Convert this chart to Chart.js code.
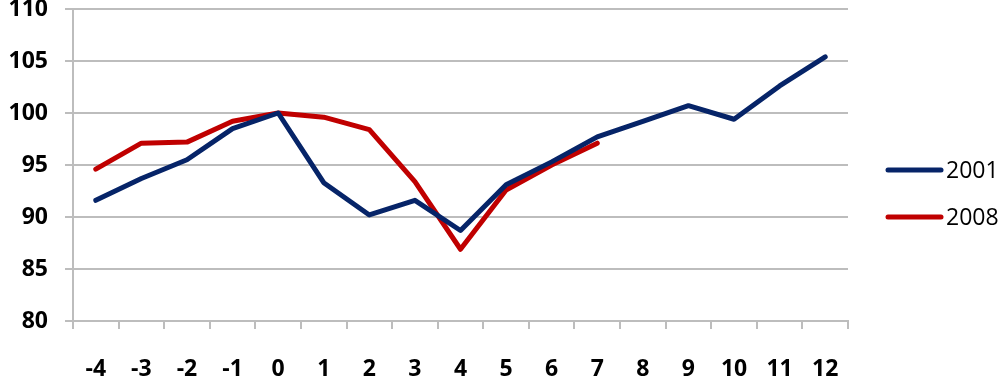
<!DOCTYPE html>
<html>
<head>
<meta charset="utf-8">
<script src="https://cdn.jsdelivr.net/npm/chart.js@4.4.1/dist/chart.umd.min.js"></script>
<style>
  html, body { margin: 0; padding: 0; background: #ffffff; }
  #wrap { width: 1005px; height: 385px; position: relative; }
</style>
</head>
<body>
<div id="wrap"><canvas id="c"></canvas></div>
<script>
// Months relative to the reference point
const periods = ['-4', '-3', '-2', '-1', '0', '1', '2', '3', '4', '5', '6', '7', '8', '9', '10', '11', '12'];

// Index values (reference month = 100)
const series2001 = [91.6, 93.7, 95.5, 98.5, 100.0, 93.3, 90.2, 91.6, 88.7, 93.1, 95.3, 97.7, 99.2, 100.7, 99.4, 102.6, 105.4];
const series2008 = [94.6, 97.1, 97.2, 99.2, 100.0, 99.6, 98.4, 93.4, 86.9, 92.6, 95.0, 97.1];

const yTicks = { min: 80, max: 110, step: 5 };

const seriesNames = ['2001', '2008'];
const seriesColors = ['#062468', '#c00000'];

const gridGray = '#bdbdbd';
const fontFamily = '"Open Sans", "Liberation Sans", sans-serif';

// Legend drawn on the right, vertically stacked, short line + label
const sideLegend = {
  id: 'sideLegend',
  afterDraw(chart) {
    const ctx = chart.ctx;
    const x0 = 888, x1 = 941;
    const rows = [170, 217];
    ctx.save();
    chart.data.datasets.forEach((ds, i) => {
      const y = rows[i];
      ctx.strokeStyle = ds.borderColor;
      ctx.lineWidth = 5;
      ctx.lineCap = 'round';
      ctx.beginPath();
      ctx.moveTo(x0, y);
      ctx.lineTo(x1, y);
      ctx.stroke();
      ctx.fillStyle = '#000000';
      ctx.font = '23px ' + fontFamily;
      ctx.textBaseline = 'middle';
      ctx.textAlign = 'left';
      ctx.fillText(ds.label, 946, y + 1);
    });
    ctx.restore();
  }
};

new Chart(document.getElementById('c'), {
  type: 'line',
  data: {
    labels: periods,
    datasets: [
      {
        label: seriesNames[0],
        data: series2001,
        borderColor: seriesColors[0],
        backgroundColor: seriesColors[0],
        borderWidth: 5,
        pointRadius: 0,
        tension: 0,
        borderJoinStyle: 'round',
        borderCapStyle: 'round',
        fill: false
      },
      {
        label: seriesNames[1],
        data: series2008,
        borderColor: seriesColors[1],
        backgroundColor: seriesColors[1],
        borderWidth: 5,
        pointRadius: 0,
        tension: 0,
        borderJoinStyle: 'round',
        borderCapStyle: 'round',
        fill: false
      }
    ]
  },
  options: {
    responsive: true,
    maintainAspectRatio: false,
    animation: false,
    layout: { padding: { top: 9, right: 157, bottom: 0, left: 0 } },
    plugins: {
      legend: { display: false },
      tooltip: { enabled: false }
    },
    scales: {
      x: {
        type: 'category',
        offset: true,
        grid: {
          offset: true,
          drawOnChartArea: false,
          drawTicks: true,
          tickLength: 8,
          color: gridGray,
          lineWidth: 2
        },
        border: { display: true, color: gridGray, width: 2 },
        ticks: {
          color: '#000000',
          font: { family: fontFamily, size: 23, weight: 'bold' },
          padding: 27,
          maxRotation: 0,
          autoSkip: false
        },
        afterFit(scale) {
          scale.height = 64;
          scale.paddingLeft = 0;
          scale.paddingRight = 0;
        }
      },
      y: {
        min: yTicks.min,
        max: yTicks.max,
        grid: {
          color: gridGray,
          lineWidth: 2,
          drawTicks: true,
          tickLength: 8
        },
        border: { display: true, color: gridGray, width: 2 },
        ticks: {
          stepSize: yTicks.step,
          color: '#000000',
          font: { family: fontFamily, size: 23, weight: 'bold' },
          padding: 17
        },
        afterFit(scale) {
          scale.width = 73;
          scale.paddingTop = 0;
          scale.paddingBottom = 0;
        }
      }
    }
  },
  plugins: [sideLegend]
});
</script>
</body>
</html>
